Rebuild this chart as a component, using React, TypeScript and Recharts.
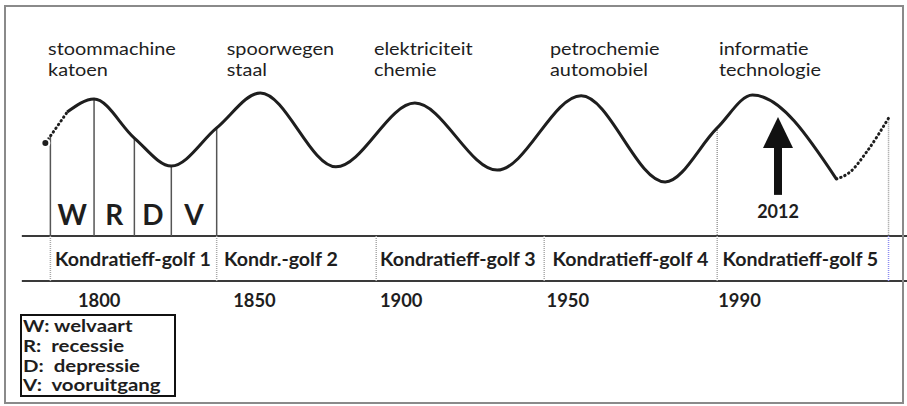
import { Line, LineChart, ReferenceDot, ReferenceLine, XAxis, YAxis } from 'recharts';

// long wave (time axis in years, activity as an index 0-100)
const waveYears = [1788.5, 1790, 1795, 1803, 1815, 1826, 1839.5, 1852.5, 1875, 1898.5, 1923, 1948, 1973, 1988.5, 1999, 2024, 2028, 2033, 2039.5];
const waveIndex = [64.8, 66.5, 72.4, 75.6, 66.0, 59.1, 68.5, 77.1, 58.9, 74.6, 58.1, 76.4, 55.2, 68.5, 76.6, 55.9, 57.6, 62.6, 70.9];
const EARLY_END = 2;
const LATE_START = 15;

// phases of the first wave
const phaseYears = [1790, 1803, 1815, 1826, 1839.5];
const phaseLetters = ['W', 'R', 'D', 'V'];

// the five waves
const golfBounds = [1790, 1839.5, 1887, 1937, 1988.5, 2039.5];
const golfLabels = ['Kondratieff-golf 1', 'Kondr.-golf 2', 'Kondratieff-golf 3', 'Kondratieff-golf 4', 'Kondratieff-golf 5'];
const golfLabelYears = [1791.4, 1841.7, 1888.1, 1939.5, 1990.1];

const innovationTop = ['stoommachine', 'spoorwegen', 'elektriciteit', 'petrochemie', 'informatie'];
const innovationBottom = ['katoen', 'staal', 'chemie', 'automobiel', 'technologie'];
const innovationYears = [1789.3, 1842.5, 1886.3, 1938.7, 1989.0];

const yearTicks = ['1800', '1850', '1900', '1950', '1990'];
const yearTickYears = [1798.2, 1844.4, 1888.1, 1937.7, 1988.8];

const nowYear = 2006.6;
const nowLabel = '2012';

const legendItems = ['W: welvaart', 'R:  recessie', 'D:  depressie', 'V:  vooruitgang'];

// index levels of the timeline band and text rows
const BAND_TOP = 41.9;
const BAND_BOTTOM = 30.8;
const ROW_INNOV_1 = 86.4;
const ROW_INNOV_2 = 81.3;
const ROW_LETTERS = 44.6;
const ROW_GOLF = 34.5;
const ROW_YEARS = 24.3;
const ROW_NOW = 46.3;
const ARROW_TIP = 71.2;
const ARROW_NECK = 63.8;
const ARROW_FOOT = 52.0;

const data = waveYears.map((year, i) => ({
  year,
  early: i <= EARLY_END ? waveIndex[i] : null,
  main: i >= EARLY_END && i <= LATE_START ? waveIndex[i] : null,
  late: i >= LATE_START ? waveIndex[i] : null,
}));

const waveAt = (year: number) => waveIndex[waveYears.indexOf(year)];

const FONT = 'Lato, sans-serif';
const INK = '#1e1e1e';

// the original lettering is a little wider than Lato, so text is stretched horizontally
const textShape =
  (text: string, size: number, weight: number, stretch = 1, anchor: 'start' | 'middle' = 'start') =>
  (props: any) => (
    <text
      transform={`translate(${props.cx},${props.cy}) scale(${stretch},1)`}
      x={0}
      y={0}
      fontFamily={FONT}
      fontSize={size}
      fontWeight={weight}
      fill={INK}
      textAnchor={anchor}
    >
      {text}
    </text>
  );

const arrowHead = (props: any) => (
  <polygon
    points={`${props.cx},${props.cy} ${props.cx - 15},${props.cy + 31} ${props.cx + 15},${props.cy + 31}`}
    fill='#111'
  />
);

export default function App() {
  return (
    <div style={{ position: 'absolute', left: 0, top: 0, width: 907, height: 406, background: '#fff' }}>
      <LineChart width={907} height={406} data={data} margin={{ top: 0, right: 0, bottom: 0, left: 0 }}>
        <XAxis type='number' dataKey='year' domain={[1775, 2045]} hide />
        <YAxis type='number' domain={[0, 100]} hide />

        {/* timeline band */}
        <ReferenceLine segment={[{ x: 1781.5, y: BAND_TOP }, { x: 2045, y: BAND_TOP }]} stroke='#3a3a3a' strokeWidth={2} />
        <ReferenceLine segment={[{ x: 1781.5, y: BAND_BOTTOM }, { x: 2045, y: BAND_BOTTOM }]} stroke='#3a3a3a' strokeWidth={2} />
        {golfBounds.map((x) => (
          <ReferenceLine
            key={`gb-${x}`}
            segment={[{ x, y: BAND_TOP }, { x, y: BAND_BOTTOM }]}
            stroke={x === 2039.5 ? '#8c8cf0' : '#a8a8a8'}
            strokeWidth={1.5}
            strokeDasharray='1 1'
          />
        ))}

        {/* phase dividers of wave 1 */}
        {phaseYears.map((x) => (
          <ReferenceLine key={`ph-${x}`} segment={[{ x, y: waveAt(x) }, { x, y: BAND_TOP }]} stroke='#555' strokeWidth={1.5} />
        ))}
        {/* wave 5 boundaries */}
        {[golfBounds[4], golfBounds[5]].map((x) => (
          <ReferenceLine
            key={`w5-${x}`}
            segment={[{ x, y: waveAt(x) }, { x, y: BAND_TOP }]}
            stroke='#9a9a9a'
            strokeWidth={1.5}
            strokeDasharray='1 1'
          />
        ))}

        <Line dataKey='early' stroke={INK} strokeWidth={3} strokeDasharray='0.5 4' strokeLinecap='round' dot={false} type='monotone' isAnimationActive={false} />
        <Line dataKey='main' stroke={INK} strokeWidth={3} dot={false} type='monotone' isAnimationActive={false} />
        <Line dataKey='late' stroke={INK} strokeWidth={3} strokeDasharray='0.5 4' strokeLinecap='round' dot={false} type='monotone' isAnimationActive={false} />

        {/* 2012 arrow */}
        <ReferenceLine segment={[{ x: nowYear, y: ARROW_FOOT }, { x: nowYear, y: ARROW_NECK + 0.5 }]} stroke='#111' strokeWidth={8} />
        <ReferenceDot x={nowYear} y={ARROW_TIP} r={0} shape={arrowHead} />
        <ReferenceDot x={nowYear} y={ROW_NOW} r={0} shape={textShape(nowLabel, 18, 700, 1, 'middle')} />

        {innovationTop.map((t, i) => (
          <ReferenceDot key={`it-${t}`} x={innovationYears[i]} y={ROW_INNOV_1} r={0} shape={textShape(t, 17, 400, 1.17)} />
        ))}
        {innovationBottom.map((t, i) => (
          <ReferenceDot key={`ib-${t}`} x={innovationYears[i]} y={ROW_INNOV_2} r={0} shape={textShape(t, 17, 400, 1.17)} />
        ))}
        {phaseLetters.map((t, i) => (
          <ReferenceDot
            key={`pl-${t}`}
            x={(phaseYears[i] + phaseYears[i + 1]) / 2}
            y={ROW_LETTERS}
            r={0}
            shape={textShape(t, 28, 700, 1, 'middle')}
          />
        ))}
        {golfLabels.map((t, i) => (
          <ReferenceDot key={`gl-${t}`} x={golfLabelYears[i]} y={ROW_GOLF} r={0} shape={textShape(t, 18.5, 700, 1.06)} />
        ))}
        {yearTicks.map((t, i) => (
          <ReferenceDot key={`yt-${t}`} x={yearTickYears[i]} y={ROW_YEARS} r={0} shape={textShape(t, 18, 700, 1.02)} />
        ))}
      </LineChart>

      <div
        style={{
          position: 'absolute',
          left: 20,
          top: 314,
          width: 156,
          height: 83,
          boxSizing: 'border-box',
          border: '2px solid #111',
          paddingLeft: 1,
          fontFamily: FONT,
          fontWeight: 700,
          fontSize: 17,
          lineHeight: '19.8px',
          color: INK,
          whiteSpace: 'pre',
        }}
      >
        {legendItems.map((t) => (
          <div key={t} style={{ transform: 'scaleX(1.2)', transformOrigin: 'left center' }}>
            {t}
          </div>
        ))}
      </div>

      <div
        style={{
          position: 'absolute',
          left: 4,
          top: 5,
          width: 900,
          height: 399,
          boxSizing: 'border-box',
          border: '2px solid #8a8a8a',
          pointerEvents: 'none',
        }}
      />
    </div>
  );
}
